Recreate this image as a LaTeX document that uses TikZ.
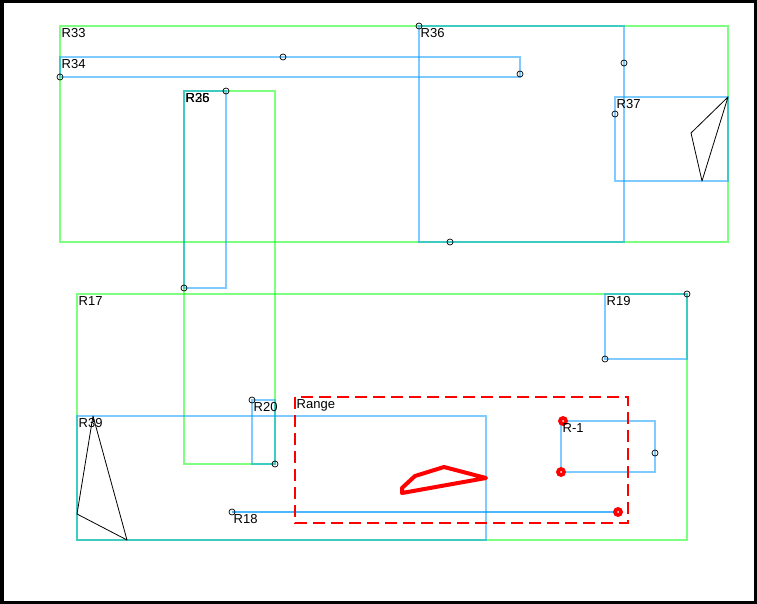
\documentclass[tikz,border=0pt]{standalone}
\usepackage{fontspec}
\setmainfont{Liberation Sans}
\definecolor{gr}{RGB}{0,255,0}
\definecolor{bl}{RGB}{0,153,255}
\begin{document}
\begin{tikzpicture}[x=1pt,y=-1pt,
  grnbox/.style={draw=gr,draw opacity=0.5,line width=2pt},
  blubox/.style={draw=bl,draw opacity=0.5,line width=2pt},
  thin/.style={draw=black,line width=0.8pt},
  hole/.style={draw=black,line width=0.7pt},
  lbl/.style={anchor=north west,inner sep=0pt,font=\fontsize{13}{15}\selectfont}]
\useasboundingbox (0,0) rectangle (757,604);
\fill[black] (0,0) rectangle (757,604);
\fill[white] (4,3) rectangle (754,601);
% green rectangles
\draw[grnbox] (60,26) rectangle (728,242);
\draw[grnbox] (184,91) rectangle (275,464);
\draw[grnbox] (77,294) rectangle (687,540);
% blue rectangles
\draw[blubox] (60,57) rectangle (520,77);
\draw[blubox] (184,91) rectangle (226,288);
\draw[blubox] (419,26) rectangle (624,242);
\draw[blubox] (615,97) rectangle (728,181);
\draw[blubox] (605,294) rectangle (687,359);
\draw[blubox] (252,400) rectangle (275,464);
\draw[blubox] (77,416) rectangle (486,540);
\draw[blubox] (561,421) rectangle (655,472);
\coordinate (r18a) at (232,512);
\coordinate (r18b) at (618,512);
\draw[draw=bl,draw opacity=0.7,line width=2pt] (r18a) -- (r18b);
% triangles
\draw[thin,line join=round] (728,97) -- (691,133) -- (702,181) -- cycle;
\draw[thin,line join=round] (93,416) -- (77,514) -- (127,540) -- cycle;
% range
\draw[red,line width=2pt,dash pattern=on 12pt off 6pt] (295,397) rectangle (628,523);
\draw[red,line width=4pt,line join=round] (402,493) -- (402,488) -- (415,476) -- (444,467) -- (486,478) -- cycle;
% small circles
\foreach \p in {(283,57),(60,77),(520,74),(226,91),(184,288),(419,26),(624,63),(450,242),(615,114),(687,294),(605,359),(252,400),(275,464),(655,453),(232,512)}
  \draw[hole] \p circle[radius=3pt];
% red dots
\foreach \p in {(563,421),(561,472),(618,512)}{
  \fill[red] \p circle[radius=5pt];
  \fill[white] \p circle[radius=1pt];}
% labels
\node[lbl] (l33) at (61.5,28.3) {R33};
\node[lbl] (l34) at (61.5,59.3) {R34};
\node[lbl] (l35) at (185.5,93) {R35};
\node[lbl] (l26) at (185.5,93) {R26};
\node[lbl] (l36) at (420.5,28.5) {R36};
\node[lbl] (l37) at (616.5,99.5) {R37};
\node[lbl] (l17) at (78.5,296) {R17};
\node[lbl] (l19) at (606.5,296) {R19};
\node[lbl] (l20) at (253.5,402) {R20};
\node[lbl] (l39) at (78.5,418) {R39};
\node[lbl] (lrange) at (296.5,399) {Range};
\node[lbl] (lr1) at (562.5,423) {R-1};
\node[lbl] (l18) at (233.5,514.3) {R18};
\end{tikzpicture}
\end{document}
